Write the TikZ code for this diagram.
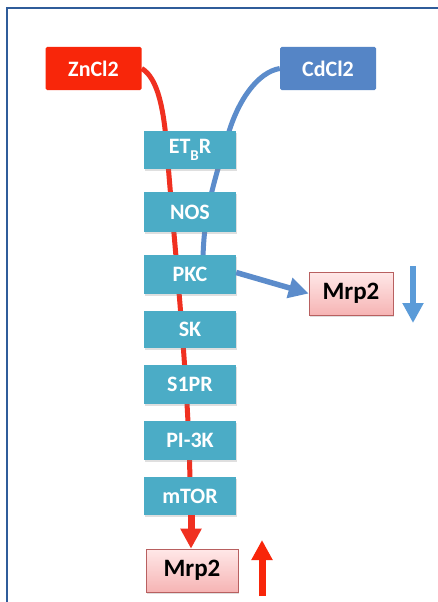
\documentclass[tikz,border=0pt]{standalone}
\usepackage{fontspec}
\setmainfont{Carlito}
\usetikzlibrary{arrows.meta,shadows}
\pgfdeclarelayer{bg}
\pgfsetlayers{bg,main}
\definecolor{zred}{HTML}{F8260A}
\definecolor{lred}{HTML}{F03020}
\definecolor{cdblue}{HTML}{5585C6}
\definecolor{lblue}{HTML}{5C8CCB}
\definecolor{abblue}{HTML}{5B9BD8}
\definecolor{teal}{HTML}{4BACC6}
\definecolor{pinktop}{HTML}{FFE8E8}
\definecolor{pinkbot}{HTML}{F6B4B4}
\definecolor{pinkline}{HTML}{B86060}
\definecolor{frameblue}{HTML}{2F5C9A}
\tikzset{
  txt/.style={font=\fontsize{22}{24}\selectfont\bfseries},
  srcbox/.style={txt, text=white, minimum width=96pt, minimum height=43pt, inner sep=0pt, rounded corners=1.5pt},
  pathbox/.style={txt, text=white, fill=teal, minimum width=92pt, inner sep=0pt,
     drop shadow={shadow xshift=1pt, shadow yshift=-1.5pt, opacity=0.25}},
  mrpbox/.style={font=\fontsize{25}{27}\selectfont\bfseries, text=black, draw=pinkline, line width=0.6pt,
     top color=pinktop, bottom color=pinkbot, minimum height=43pt, inner sep=0pt,
     drop shadow={shadow xshift=1pt, shadow yshift=-1.5pt, opacity=0.25}},
  redline/.style={draw=lred, line width=5pt},
  blueline/.style={draw=lblue, line width=5pt},
  fatarrow/.style={line width=#1, -{Triangle[width=20pt,length=20pt]}},
}
\begin{document}
\begin{tikzpicture}[x=1pt,y=-1pt]
\useasboundingbox (0,0) rectangle (438,602);
\begin{pgfonlayer}{bg}
\fill[white] (0,0) rectangle (438,602);
\end{pgfonlayer}
\draw[frameblue, line width=2pt] (7,603) -- (7,8) -- (439,8);

\node[srcbox, fill=zred] (zn) at (93.5,68.5) {ZnCl2};
\node[srcbox, fill=cdblue] (cd) at (328,68.5) {CdCl2};

\node[pathbox, minimum height=38pt] (etbr) at (190,150) {ET\raisebox{-0.3em}{\fontsize{15}{16}\selectfont B}R};
\node[pathbox, minimum height=40pt] (nos) at (190,212) {NOS};
\node[pathbox, minimum height=39pt] (pkc) at (190,274.5) {PKC};
\node[pathbox, minimum height=37pt] (sk) at (190,329.5) {SK};
\node[pathbox, minimum height=39pt] (s1pr) at (190,384.5) {S1PR};
\node[pathbox, minimum height=39pt] (pi3k) at (190,440.5) {PI-3K};
\node[pathbox, minimum height=38pt] (mtor) at (190,496) {mTOR};

\node[mrpbox, minimum width=92pt] (mrpb) at (192,570.5) {Mrp2};
\node[mrpbox, minimum width=84pt] (mrpr) at (351,293.5) {Mrp2};

\coordinate (bdtop) at (413,266);
\coordinate (bdbot) at (413,323);
\coordinate (rubot) at (262,596);
\coordinate (rutop) at (262,540);

\begin{pgfonlayer}{bg}
\draw[redline] (zn.east) .. controls (158,78) and (164,110) .. (167,150)
   .. controls (172,220) and (189,380) .. (190,485);
\draw[blueline] (cd.west) .. controls (258,72) and (238,100) .. (228,135)
   .. controls (218,170) and (203,210) .. (203,262);
\end{pgfonlayer}

\draw[fatarrow=7pt, lred] ([xshift=1pt]mtor.south) -- ([xshift=-1pt]mrpb.north);
\draw[fatarrow=5.5pt, lblue] ([yshift=2pt]pkc.east) -- (mrpr.west);
\draw[fatarrow=6pt, abblue] (bdtop) -- (bdbot);
\draw[fatarrow=7pt, zred] (rubot) -- (rutop);
\end{tikzpicture}
\end{document}
